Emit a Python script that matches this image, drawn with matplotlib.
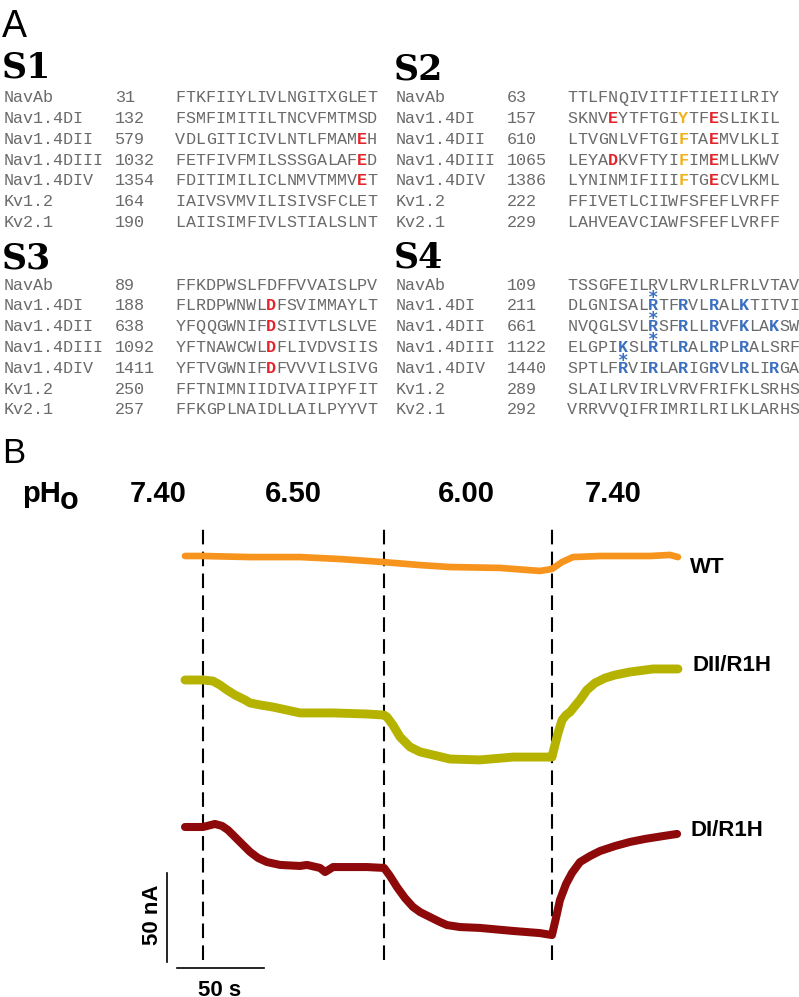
import matplotlib
matplotlib.use("Agg")
import matplotlib.pyplot as plt

# ---------------- data ----------------
proteins = ["NavAb", "Nav1.4DI", "Nav1.4DII", "Nav1.4DIII", "Nav1.4DIV", "Kv1.2", "Kv2.1"]

s1_start = [31, 132, 579, 1032, 1354, 164, 190]
s1_seq = ["FTKFIIYLIVLNGITXGLET", "FSMFIMITILTNCVFMTMSD", "VDLGITICIVLNTLFMAMEH",
          "FETFIVFMILSSSGALAFED", "FDITIMILICLNMVTMMVET", "IAIVSVMVILISIVSFCLET",
          "LAIISIMFIVLSTIALSLNT"]
s1_marks = [(2, 18, "acid"), (3, 18, "acid"), (4, 18, "acid")]

s2_start = [63, 157, 610, 1065, 1386, 222, 229]
s2_seq = ["TTLFNQIVITIFTIEIILRIY", "SKNVEYTFTGIYTFESLIKIL", "LTVGNLVFTGIFTAEMVLKLI",
          "LEYADKVFTYIFIMEMLLKWV", "LYNINMIFIIIFTGECVLKML", "FFIVETLCIIWFSFEFLVRFF",
          "LAHVEAVCIAWFSFEFLVRFF"]
s2_marks = [(1, 4, "acid"), (1, 11, "arom"), (1, 14, "acid"),
            (2, 11, "arom"), (2, 14, "acid"),
            (3, 4, "acid"), (3, 11, "arom"), (3, 14, "acid"),
            (4, 11, "arom"), (4, 14, "acid")]

s3_start = [89, 188, 638, 1092, 1411, 250, 257]
s3_seq = ["FFKDPWSLFDFFVVAISLPV", "FLRDPWNWLDFSVIMMAYLT", "YFQQGWNIFDSIIVTLSLVE",
          "YFTNAWCWLDFLIVDVSIIS", "YFTVGWNIFDFVVVILSIVG", "FFTNIMNIIDIVAIIPYFIT",
          "FFKGPLNAIDLLAILPYYVT"]
s3_marks = [(1, 9, "acid"), (2, 9, "acid"), (3, 9, "acid"), (4, 9, "acid")]

s4_start = [109, 211, 661, 1122, 1440, 289, 292]
s4_seq = ["TSSGFEILRVLRVLRLFRLVTAV", "DLGNISALRTFRVLRALKTITVI", "NVQGLSVLRSFRLLRVFKLAKSW",
          "ELGPIKSLRTLRALRPLRALSRF", "SPTLFRVIRLARIGRVLRLIRGA", "SLAILRVIRLVRVFRIFKLSRHS",
          "VRRVVQIFRIMRILRILKLARHS"]
s4_marks = [(1, 8, "basic"), (1, 11, "basic"), (1, 14, "basic"), (1, 17, "basic"),
            (2, 8, "basic"), (2, 11, "basic"), (2, 14, "basic"), (2, 17, "basic"), (2, 20, "basic"),
            (3, 5, "basic"), (3, 8, "basic"), (3, 11, "basic"), (3, 14, "basic"), (3, 17, "basic"),
            (4, 5, "basic"), (4, 8, "basic"), (4, 11, "basic"), (4, 14, "basic"), (4, 17, "basic"),
            (4, 20, "basic")]
s4_stars = [(1, 8), (2, 8), (3, 8), (4, 5)]

# panel B: pH sequence and solution-change times (s)
ph_labels = ["7.40", "6.50", "6.00", "7.40"]
switch_times = [10.3, 114.4, 210.9]

# traces: time (s) and current relative to the starting level (nA)
wt_t = [0, 10.3, 37.4, 66.1, 89.1, 113.8, 135.1, 152.3, 181.0, 204.0, 210.9, 216.7, 223.0,
        238.5, 267.2, 278.7, 283.3]
wt_i = [0, 0, -0.6, -0.6, -1.7, -3.4, -5.1, -6.2, -6.7, -8.4, -7.3, -3.4, -0.6,
        0, 0, 0.6, -0.6]

dii_t = [0, 10.3, 16.1, 20.1, 24.1, 28.7, 34.5, 37.4, 43.1, 50.6,
         58.6, 66.1, 85.1, 104.6, 114.4, 116.1, 119.5, 123.6, 129.3, 135.1,
         142.5, 152.3, 169.5, 188.5, 208.0, 210.9, 212.6, 214.4, 216.7, 219.0,
         221.3, 224.1, 227.0, 231.0, 235.6, 241.4, 247.1, 255.7, 269.0, 283.3]
dii_i = [0, 0, -0.6, -2.8, -5.6, -8.4, -11.2, -12.9, -14.0, -15.2,
         -16.9, -18.5, -18.5, -19.1, -19.7, -20.8, -25.3, -32.0, -37.6, -40.4,
         -42.1, -44.4, -44.9, -43.3, -43.3, -43.3, -36.5, -29.8, -22.5, -19.7,
         -18.0, -14.6, -11.2, -5.6, -1.7, 1.1, 2.8, 4.5, 6.2, 6.2]

di_t = [0, 10.3, 17.2, 21.3, 24.7, 27.6, 31.6, 37.4, 42.0, 47.1,
        54.6, 66.1, 70.1, 77.6, 80.5, 85.1, 104.6, 114.4, 117.8, 121.8,
        126.4, 131.0, 135.1, 140.8, 146.6, 150.6, 158.0, 169.5, 188.5, 204.0,
        210.9, 213.2, 215.5, 219.0, 222.4, 227.0, 232.8, 238.5, 247.1, 255.7,
        264.4, 274.7, 282.8]
di_i = [0, 0, 1.7, 0.6, -1.7, -4.5, -8.4, -14.0, -17.4, -19.7,
        -21.3, -21.9, -21.3, -23.0, -25.3, -22.5, -22.5, -23.0, -27.5, -33.7,
        -39.9, -44.9, -47.8, -50.6, -53.4, -55.1, -56.2, -56.7, -58.4, -59.6,
        -60.7, -51.1, -41.0, -32.0, -25.8, -19.7, -16.3, -13.5, -10.7, -8.4,
        -6.7, -5.1, -3.9]

trace_names = ["WT", "DII/R1H", "DI/R1H"]

# ---------------- layout / style ----------------
W, H = 799, 997
fig = plt.figure(figsize=(W / 100, H / 100), dpi=100)
fig.patch.set_facecolor("white")

axB = fig.add_axes([0, 0, 1, 1])
axT = fig.add_axes([0, 0, 1, 1])
axT.set_xlim(0, W)
axT.set_ylim(H, 0)
axT.axis("off")
axT.patch.set_alpha(0)

# data axes mapping: x_px = 185 + 1.74 t ; y_px = 960 - 1.78 I
PX_S = 1.74
PX_NA = 1.78
X0 = 185.0
Y0 = 960.0
axB.set_xlim((0 - X0) / PX_S, (W - X0) / PX_S)
axB.set_ylim((Y0 - H) / PX_NA, Y0 / PX_NA)
axB.axis("off")

mono = "Liberation Mono"
mono_size = 12.1
cw = 0.6 * mono_size * 100 / 72.0
gray = "#6a6a6a"
mark_colors = {"acid": "#e3262b", "arom": "#f2b21e", "basic": "#3b6fc0"}

axT.text(2, 37, "A", fontsize=27, family="Liberation Sans", va="baseline", ha="left")
axT.text(2, 463, "B", fontsize=25, family="Liberation Sans", va="baseline", ha="left")


def block(label, x0, label_base, row_base, dy, starts, seqs, marks, stars=()):
    axT.text(x0 - 2, label_base, label, fontsize=25, family="DejaVu Serif",
             fontweight="bold", va="baseline", ha="left")
    mk = {(r, c): k for r, c, k in marks}
    for r, name in enumerate(proteins):
        yb = row_base + r * dy
        axT.text(x0, yb, name, fontsize=mono_size, family=mono, color=gray,
                 va="baseline", ha="left")
        axT.text(x0 + 11 * cw, yb, str(starts[r]), fontsize=mono_size, family=mono,
                 color=gray, va="baseline", ha="left")
        for c, ch in enumerate(seqs[r]):
            xc = x0 + (17 + c) * cw
            if (r, c) in mk:
                axT.text(xc, yb, ch, fontsize=mono_size, family=mono, fontweight="bold",
                         color=mark_colors[mk[(r, c)]], va="baseline", ha="left")
            else:
                axT.text(xc, yb, ch, fontsize=mono_size, family=mono, color=gray,
                         va="baseline", ha="left")
    for r, c in stars:
        yb = row_base + r * dy
        axT.text(x0 + (17 + c) * cw + cw / 2, yb - 7, "*", fontsize=12.5,
                 family="DejaVu Sans Mono", fontweight="bold",
                 color=mark_colors["basic"], va="baseline", ha="center")


block("S1", 4, 78, 102.5, 20.7, s1_start, s1_seq, s1_marks)
block("S2", 396, 79, 102.5, 20.7, s2_start, s2_seq, s2_marks)
block("S3", 4, 268, 289.5, 20.8, s3_start, s3_seq, s3_marks)
block("S4", 396, 267, 289.5, 20.8, s4_start, s4_seq, s4_marks, s4_stars)

# ---------------- panel B ----------------
sans = "Liberation Sans"
axT.text(22, 502, "pH", fontsize=21, family=sans, fontweight="bold", va="baseline", ha="left")
axT.text(60, 509, "o", fontsize=22, family=sans, fontweight="bold", va="baseline", ha="left")
ph_x = [130, 265, 438, 585]
for lab, xp in zip(ph_labels, ph_x):
    axT.text(xp, 502, lab, fontsize=21, family=sans, fontweight="bold",
             va="baseline", ha="left")

# dashed solution-change lines
axB.vlines(switch_times, 0, (Y0 - 523) / PX_NA, colors="black", linewidth=1.5,
           linestyles=(0, (7, 3.5)))

offsets = [(Y0 - 556) / PX_NA, (Y0 - 680) / PX_NA, (Y0 - 827) / PX_NA]
series = [(wt_t, wt_i), (dii_t, dii_i), (di_t, di_i)]
colors = ["#f7941d", "#b5b300", "#8e0a0a"]
widths = [4.8, 6.4, 5.8]
for (tt, ii), off, col, lw in zip(series, offsets, colors, widths):
    axB.plot(tt, [v + off for v in ii], color=col, linewidth=lw,
             solid_capstyle="round", solid_joinstyle="round")

label_pos = [(690, 573), (692, 671), (690, 836)]
for name, (xp, yp) in zip(trace_names, label_pos):
    axT.text(xp, yp, name, fontsize=16, family=sans, fontweight="bold",
             va="baseline", ha="left")

# scale bars: 50 nA and 50 s
bar_t = (167 - X0) / PX_S
bar_i0 = (Y0 - 962) / PX_NA
axB.plot([bar_t, bar_t], [bar_i0, bar_i0 + 50], color="black", linewidth=1.2)
hb_i = (Y0 - 968) / PX_NA
hb_t0 = (177 - X0) / PX_S
axB.plot([hb_t0, hb_t0 + 50], [hb_i, hb_i], color="black", linewidth=1.2)
axT.text(153, 915, "50 nA", fontsize=16, family=sans, fontweight="bold", rotation=90,
         va="center", ha="center")
axT.text(220, 996, "50 s", fontsize=16, family=sans, fontweight="bold",
         va="baseline", ha="center")

fig.savefig("out.png", dpi=100)
